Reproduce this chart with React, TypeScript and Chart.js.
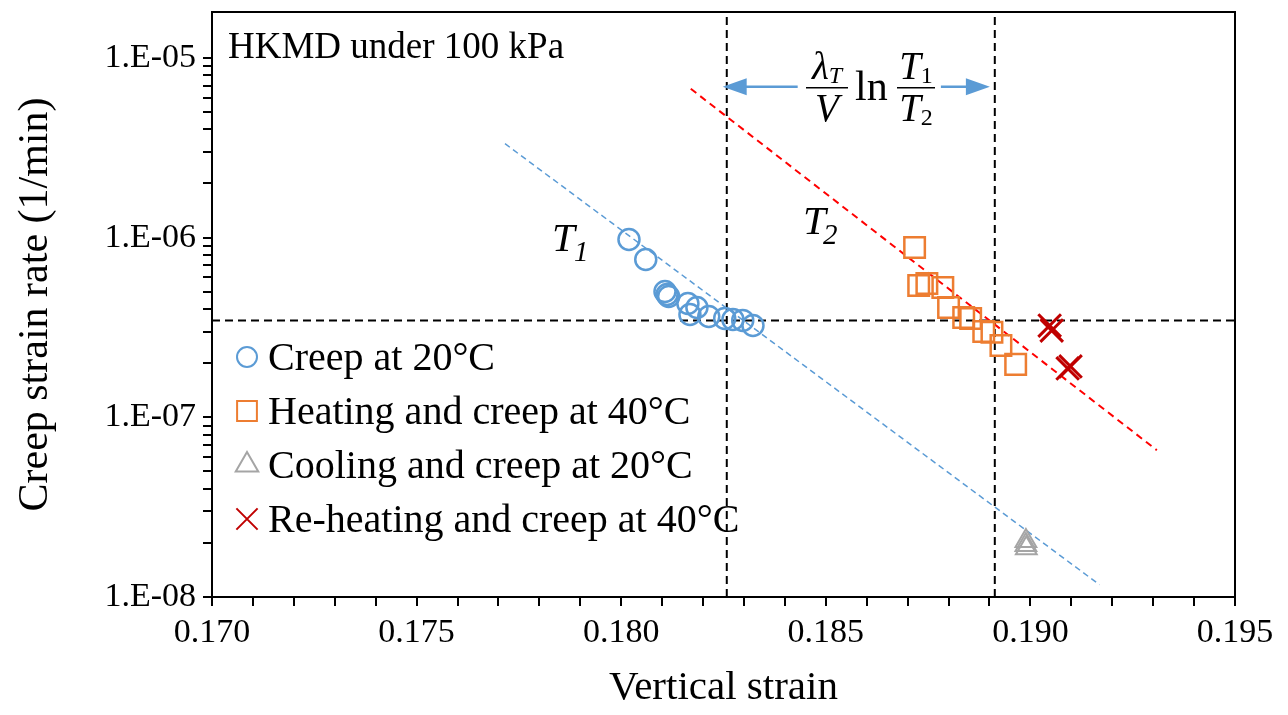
import React, { useEffect, useRef } from 'react';
import { Chart, registerables } from 'chart.js';
import { drawPoint } from 'chart.js/helpers';

Chart.register(...registerables);

const SERIF = '"Liberation Serif", "Times New Roman", serif';

// Creep at 20°C
const creep20X = [0.18019, 0.1806, 0.18107, 0.18112, 0.18116, 0.18163, 0.18185, 0.18168, 0.18214, 0.18253, 0.18273, 0.18297, 0.18322];
const creep20Y = [9.75e-7, 7.55e-7, 5.01e-7, 4.82e-7, 4.7e-7, 4.3e-7, 4.08e-7, 3.73e-7, 3.64e-7, 3.55e-7, 3.5e-7, 3.46e-7, 3.24e-7];

// Heating and creep at 40°C
const heat40X = [0.18717, 0.18727, 0.18747, 0.18786, 0.188, 0.18837, 0.18854, 0.18886, 0.18906, 0.18928, 0.18964];
const heat40Y = [8.8e-7, 5.41e-7, 5.55e-7, 5.27e-7, 4.08e-7, 3.59e-7, 3.55e-7, 3.0e-7, 2.97e-7, 2.51e-7, 1.97e-7];

// Cooling and creep at 20°C
const cool20X = [0.18989, 0.18989, 0.1899];
const cool20Y = [2.05e-8, 1.95e-8, 1.87e-8];

// Re-heating and creep at 40°C
const reheat40X = [0.19047, 0.19052, 0.19091, 0.19098];
const reheat40Y = [3.24e-7, 3.04e-7, 1.87e-7, 1.92e-7];

// Fitted creep lines at T1 and T2
const fitT1X = [0.17716, 0.19169];
const fitT1Y = [3.33e-6, 1.17e-8];
const fitT2X = [0.1817, 0.19309];
const fitT2Y = [6.73e-6, 6.56e-8];

// Reference lines and the shift arrow
const refX = [0.18258, 0.18913];
const refY = 3.46e-7;
const arrowX = [0.18248, 0.18901];
const arrowY = 6.9e-6;

// Axes
const X_MIN = 0.17;
const X_MAX = 0.195;
const X_MAJOR = [0.17, 0.175, 0.18, 0.185, 0.19, 0.195];
const X_TICK_LABELS = ['0.170', '0.175', '0.180', '0.185', '0.190', '0.195'];
const Y_MIN = 1e-8;
const Y_MAX = 1.8e-5;
const Y_MAJOR = [1e-8, 1e-7, 1e-6, 1e-5];
const Y_TICK_LABELS = ['1.E-08', '1.E-07', '1.E-06', '1.E-05'];

const SERIES_LABELS = ['Creep at 20°C', 'Heating and creep at 40°C', 'Cooling and creep at 20°C', 'Re-heating and creep at 40°C'];

const toPoints = (xs: number[], ys: number[]) => xs.map((x, i) => ({ x, y: ys[i] }));

const decorPlugin = {
  id: 'decor',
  afterDraw(chart: any) {
    const { ctx, chartArea: a, scales } = chart;
    const xs = scales.x;
    const ys = scales.y;
    ctx.save();
    ctx.setLineDash([]);

    // plot frame
    ctx.strokeStyle = '#000';
    ctx.lineWidth = 2;
    ctx.strokeRect(a.left, a.top, a.right - a.left, a.bottom - a.top);

    // legend
    const lx = a.left + 35;
    const ly0 = 357;
    const step = 54;
    const legendRadius = [10, 14, 13, 15];
    for (let i = 0; i < 4; i++) {
      const ds = chart.data.datasets[i];
      const cy = ly0 + i * step;
      ctx.strokeStyle = ds.borderColor;
      ctx.fillStyle = 'rgba(0,0,0,0)';
      ctx.lineWidth = 2;
      drawPoint(ctx, { pointStyle: ds.pointStyle, radius: legendRadius[i], borderWidth: 2, rotation: 0 }, lx, cy);
      ctx.fillStyle = '#000';
      ctx.font = `40px ${SERIF}`;
      ctx.textAlign = 'left';
      ctx.textBaseline = 'alphabetic';
      ctx.fillText(SERIES_LABELS[i], lx + 21, cy + 13);
    }

    // sample label
    ctx.font = `37px ${SERIF}`;
    ctx.fillText('HKMD under 100 kPa', a.left + 16, 58);

    // temperature labels
    const italic = (s: number) => `italic ${s}px ${SERIF}`;
    ctx.font = italic(41);
    ctx.fillText('T', 552, 251);
    ctx.font = italic(29);
    ctx.fillText('1', 574, 261);
    ctx.font = italic(41);
    ctx.fillText('T', 803, 234);
    ctx.font = italic(29);
    ctx.fillText('2', 823, 244);

    // shift arrows
    const ay = ys.getPixelForValue(arrowY);
    const xl = xs.getPixelForValue(arrowX[0]);
    const xr = xs.getPixelForValue(arrowX[1]);
    ctx.strokeStyle = '#5B9BD5';
    ctx.fillStyle = '#5B9BD5';
    ctx.lineWidth = 2.5;
    ctx.beginPath();
    ctx.moveTo(xl + 20, ay);
    ctx.lineTo(xl + 75, ay);
    ctx.moveTo(xr - 49, ay);
    ctx.lineTo(xr - 20, ay);
    ctx.stroke();
    ctx.beginPath();
    ctx.moveTo(xl, ay);
    ctx.lineTo(xl + 24, ay - 8.5);
    ctx.lineTo(xl + 24, ay + 8.5);
    ctx.closePath();
    ctx.moveTo(xr, ay);
    ctx.lineTo(xr - 24, ay - 8.5);
    ctx.lineTo(xr - 24, ay + 8.5);
    ctx.closePath();
    ctx.fill();

    // formula: (lambda_T / V) ln (T1 / T2)
    ctx.fillStyle = '#000';
    ctx.strokeStyle = '#000';
    ctx.lineWidth = 1.5;
    const barY = ay + 1;
    const numBase = barY - 9;
    const denBase = barY + 33;
    const drawPair = (cx: number, base: string, sub: string, subItalic: boolean, y: number) => {
      ctx.font = italic(39);
      const w1 = ctx.measureText(base).width;
      ctx.font = subItalic ? italic(24) : `24px ${SERIF}`;
      const w2 = ctx.measureText(sub).width;
      const x0 = cx - (w1 + w2) / 2;
      ctx.font = italic(39);
      ctx.fillText(base, x0, y);
      ctx.font = subItalic ? italic(24) : `24px ${SERIF}`;
      ctx.fillText(sub, x0 + w1, y + 4);
    };
    const c1 = 827;
    drawPair(c1, 'λ', 'T', true, numBase);
    ctx.beginPath();
    ctx.moveTo(c1 - 21, barY);
    ctx.lineTo(c1 + 21, barY);
    ctx.stroke();
    ctx.font = italic(39);
    ctx.textAlign = 'center';
    ctx.fillText('V', c1, denBase);
    ctx.textAlign = 'left';
    ctx.font = `42px ${SERIF}`;
    ctx.fillText('ln', 855, barY + 12);
    const c2 = 916;
    drawPair(c2, 'T', '1', false, numBase);
    ctx.beginPath();
    ctx.moveTo(c2 - 19, barY);
    ctx.lineTo(c2 + 19, barY);
    ctx.stroke();
    drawPair(c2, 'T', '2', false, denBase);

    ctx.restore();
  },
};

export default function App() {
  const canvasRef = useRef<HTMLCanvasElement | null>(null);

  useEffect(() => {
    const canvas = canvasRef.current;
    if (!canvas) return;

    const dashed = (data: any[], color: string, width: number, dash: number[]) => ({
      type: 'line',
      data,
      borderColor: color,
      borderWidth: width,
      borderDash: dash,
      pointRadius: 0,
      showLine: true,
      fill: false,
    });

    const chart = new Chart(canvas, {
      type: 'scatter',
      data: {
        datasets: [
          {
            label: SERIES_LABELS[0],
            data: toPoints(creep20X, creep20Y),
            pointStyle: 'circle',
            pointRadius: 10.5,
            borderColor: '#5B9BD5',
            backgroundColor: 'rgba(0,0,0,0)',
            borderWidth: 2.5,
          },
          {
            label: SERIES_LABELS[1],
            data: toPoints(heat40X, heat40Y),
            pointStyle: 'rect',
            pointRadius: 14.5,
            borderColor: '#ED7D31',
            backgroundColor: 'rgba(0,0,0,0)',
            borderWidth: 2.5,
          },
          {
            label: SERIES_LABELS[2],
            data: toPoints(cool20X, cool20Y),
            pointStyle: 'triangle',
            pointRadius: 12,
            borderColor: '#A5A5A5',
            backgroundColor: 'rgba(0,0,0,0)',
            borderWidth: 2,
          },
          {
            label: SERIES_LABELS[3],
            data: toPoints(reheat40X, reheat40Y),
            pointStyle: 'crossRot',
            pointRadius: 16,
            borderColor: '#C00000',
            backgroundColor: 'rgba(0,0,0,0)',
            borderWidth: 3,
          },
          dashed(toPoints(fitT1X, fitT1Y), '#5B9BD5', 1.5, [6, 4]),
          dashed(toPoints(fitT2X, fitT2Y), '#FF0000', 2, [7, 5]),
          dashed([{ x: refX[0], y: Y_MIN }, { x: refX[0], y: Y_MAX }], '#000', 2, [8, 5]),
          dashed([{ x: refX[1], y: Y_MIN }, { x: refX[1], y: Y_MAX }], '#000', 2, [8, 5]),
          dashed([{ x: X_MIN, y: refY }, { x: X_MAX, y: refY }], '#000', 2, [8, 5]),
        ] as any,
      },
      options: {
        responsive: false,
        animation: false,
        devicePixelRatio: 1,
        layout: { autoPadding: false, padding: { left: 0, top: 12, right: 53, bottom: 0 } },
        plugins: {
          legend: { display: false },
          tooltip: { enabled: false },
        },
        scales: {
          x: {
            type: 'linear',
            min: X_MIN,
            max: X_MAX,
            border: { display: false },
            grid: { drawOnChartArea: false, drawTicks: true, tickLength: 9, color: '#000', lineWidth: 2 },
            ticks: {
              autoSkip: false,
              maxRotation: 0,
              padding: 7,
              color: '#000',
              font: { family: SERIF, size: 34, lineHeight: 1.2 },
              callback: (v: any) => {
                const i = X_MAJOR.findIndex((m) => Math.abs(m - Number(v)) < 1e-9);
                return i >= 0 ? X_TICK_LABELS[i] : '';
              },
            },
            afterBuildTicks: (scale: any) => {
              const ticks = [];
              for (let k = 170; k <= 195; k++) ticks.push({ value: k / 1000 });
              scale.ticks = ticks;
            },
            afterFit: (scale: any) => {
              scale.height = 118;
              scale.paddingLeft = 0;
              scale.paddingRight = 0;
            },
            title: {
              display: true,
              text: 'Vertical strain',
              color: '#000',
              font: { family: SERIF, size: 41, lineHeight: 1.2 },
              padding: { top: 0, bottom: 2 },
            },
          },
          y: {
            type: 'logarithmic',
            min: Y_MIN,
            max: Y_MAX,
            border: { display: false },
            grid: { drawOnChartArea: false, drawTicks: true, tickLength: 9, color: '#000', lineWidth: 2 },
            ticks: {
              autoSkip: false,
              padding: 7,
              color: '#000',
              font: { family: SERIF, size: 34, lineHeight: 1.2 },
              callback: (v: any) => {
                const i = Y_MAJOR.findIndex((m) => Math.abs(m - Number(v)) / m < 1e-6);
                return i >= 0 ? Y_TICK_LABELS[i] : '';
              },
            },
            afterBuildTicks: (scale: any) => {
              const ticks = [];
              for (const m of Y_MAJOR) {
                for (let s = 1; s <= 9; s++) {
                  const v = m * s;
                  if (v <= Y_MAX * 1.0001) ticks.push({ value: v });
                }
              }
              scale.ticks = ticks;
            },
            afterFit: (scale: any) => {
              scale.width = 212;
              scale.paddingTop = 0;
              scale.paddingBottom = 0;
            },
            title: {
              display: true,
              text: 'Creep strain rate (1/min)',
              color: '#000',
              font: { family: SERIF, size: 42, lineHeight: 1.2 },
              padding: { top: 11, bottom: 0 },
            },
          },
        },
      } as any,
      plugins: [decorPlugin],
    });

    return () => chart.destroy();
  }, []);

  return (
    <div style={{ position: 'absolute', left: 0, top: 0, width: 1288, height: 715, background: '#fff' }}>
      <canvas ref={canvasRef} width={1288} height={715} />
    </div>
  );
}
